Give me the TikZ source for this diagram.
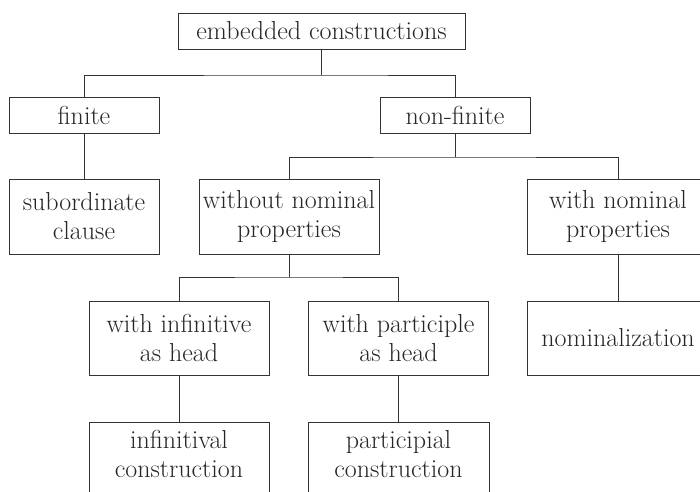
\documentclass[tikz,border=0pt]{standalone}
\usepackage{fontspec}
\begin{document}
\begin{tikzpicture}[x=1pt,y=-1pt,
  box/.style={draw=black!80, line width=1pt, rectangle, inner sep=0pt, align=center,
    text=black!85, font=\fontsize{26}{29}\selectfont},
  onebox/.style={box, minimum width=150pt, minimum height=36pt},
  twobox/.style={box, minimum width=180pt, minimum height=75pt},
  cutbox/.style={box, minimum width=180pt, anchor=north, inner ysep=8pt},
  conn/.style={draw=black!80, line width=1pt}]
\clip (0,0) rectangle (700,491);
\fill[white] (0,0) rectangle (700,491);
\node[box, minimum width=287pt, minimum height=36pt] (top) at (321.5,31) {embedded constructions};
\node[onebox] (finite) at (84,115) {finite};
\node[onebox] (nonfinite) at (455,115) {non-finite};
\node[twobox, minimum width=150pt] (sub) at (84,216.5) {subordinate\\clause};
\node[twobox] (without) at (289,216.5) {without nominal\\properties};
\node[twobox, minimum width=182pt] (withnom) at (618,216.5) {with nominal\\properties};
\node[twobox, minimum height=74pt] (withinf) at (179,338) {with infinitive\\as head};
\node[twobox, minimum height=74pt] (withpart) at (398.5,338) {with participle\\as head};
\node[twobox, minimum width=182pt, minimum height=74pt] (nominal) at (618,338) {nominalization};
\node[cutbox] (infcon) at (179,422) {infinitival\\construction\\\mbox{}};
\node[cutbox, minimum width=181pt] (partcon) at (398.5,422) {participial\\construction\\\mbox{}};
\coordinate (b1) at (321.5,75);
\coordinate (b2) at (455,157);
\coordinate (b3) at (289,277);
\draw[conn] (top.south) -- (b1);
\draw[conn] (finite.north) |- (b1) -| (nonfinite.north);
\draw[conn] (finite.south) -- (sub.north);
\draw[conn] (nonfinite.south) -- (b2);
\draw[conn] (without.north) |- (b2) -| (withnom.north);
\draw[conn] (without.south) -- (b3);
\draw[conn] (withinf.north) |- (b3) -| (withpart.north);
\draw[conn] (withnom.south) -- (nominal.north);
\draw[conn] (withinf.south) -- (infcon.north);
\draw[conn] (withpart.south) -- (partcon.north);
\end{tikzpicture}
\end{document}
